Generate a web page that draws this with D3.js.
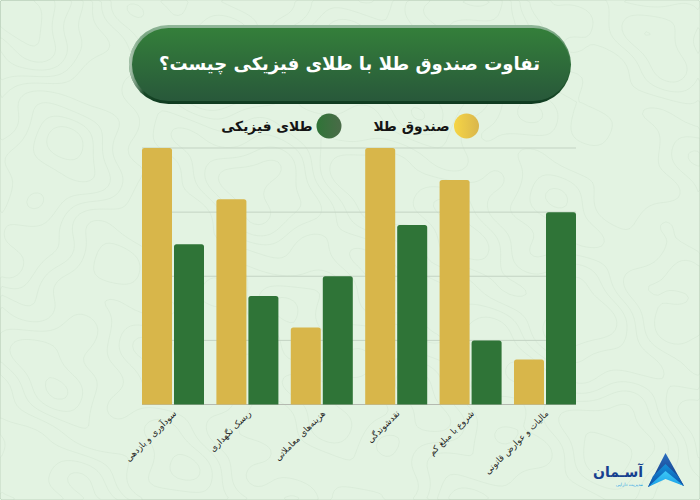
<!DOCTYPE html>
<html lang="fa"><head><meta charset="utf-8">
<script src="https://cdn.jsdelivr.net/npm/d3@7"></script>
<style>html,body{margin:0;padding:0;background:#e3f3e2;overflow:hidden}svg{display:block}text{font-family:"DejaVu Sans",sans-serif}</style>
</head><body><svg id="c" width="700" height="500"></svg>
<script>
const categories = ["سودآوری و بازدهی","ریسک نگهداری","هزینه‌های معاملاتی","نقدشوندگی","شروع با مبلغ کم","مالیات و عوارض قانونی"];
const seriesNames = ["صندوق طلا","طلای فیزیکی"];
const fundValues = [100,80,30,100,87.5,17.5];
const physicalValues = [62.5,42.3,50,70,25,75];
const gridTicks = [25,50,75,100];
const titleText = "تفاوت صندوق طلا با طلای فیزیکی چیست؟";
const brandName = "آسـمان";
const brandTag = "مدیریت دارایی";
const gold = "#d8b64a", green = "#2f7437";

const svg = d3.select("#c");
const defs = svg.append("defs");
function grad(id, stops, x2, y2){
  const g = defs.append("linearGradient").attr("id",id).attr("x1",0).attr("y1",0).attr("x2",x2).attr("y2",y2);
  stops.forEach(([o,c,a])=>g.append("stop").attr("offset",o).attr("stop-color",c).attr("stop-opacity",a===undefined?1:a));
}
grad("titleG",[[0,"#347f3a"],[1,"#28583a"]],0,1);
grad("titleEdge",[[0,"#93b89b"],[0.5,"#2f6f3a"],[1,"#0f3a20"]],0,1);
grad("titleLeft",[[0,"#c9d9cc",0.85],[0.035,"#c9d9cc",0]],1,0);
grad("legGold",[[0,"#f6d545"],[1,"#d9b64c"]],1,0);
grad("legGreen",[[0,"#2f7437"],[1,"#4a6b48"]],1,0);
grad("logoA",[[0,"#2a6fc0"],[1,"#0d2f78"]],0,1);
grad("logoB",[[0,"#1390d8"],[1,"#0e4fa8"]],0,1);
grad("logoC",[[0,"#3cc8f6"],[1,"#1a9ee6"]],0,1);

// background topographic texture
const bgW = 175, bgH = 125;
const field = new Float64Array(bgW*bgH);
for(let j=0;j<bgH;j++)for(let i=0;i<bgW;i++){
  const x=i*4,y=j*4;
  field[j*bgW+i]=Math.sin(x/61+1.2)*Math.cos(y/47-0.6)+0.7*Math.sin((x+y)/83+2.1)+0.55*Math.cos((x-1.4*y)/39)+0.35*Math.sin(x/23+y/71)+0.22*Math.cos(x/13-y/17)+0.15*Math.sin(y/9+x/31);
}
const contours = d3.contours().size([bgW,bgH]).thresholds(d3.range(-2.1,2.1,0.5))(field);
svg.append("g").attr("transform","scale(4)").selectAll("path").data(contours).join("path")
  .attr("d",d3.geoPath()).attr("fill","none").attr("stroke","#b9cdb9").attr("stroke-opacity",0.25).attr("stroke-width",0.18);

// title pill
const pill = svg.append("g");
pill.append("rect").attr("x",129).attr("y",25).attr("width",442).attr("height",79).attr("rx",39.5).attr("fill","url(#titleEdge)");
pill.append("rect").attr("x",129).attr("y",25).attr("width",442).attr("height",79).attr("rx",39.5).attr("fill","url(#titleLeft)");
pill.append("rect").attr("x",132).attr("y",28).attr("width",438).attr("height",73).attr("rx",36.5).attr("fill","url(#titleG)");
pill.append("text").attr("x",349.5).attr("y",69.5).attr("text-anchor","middle").attr("direction","rtl")
  .attr("fill","#fff").attr("font-size",18).attr("font-weight",700).text(titleText);

// legend
const legendData = [{n:seriesNames[0],cx:466.5,f:"url(#legGold)",tx:449.5},{n:seriesNames[1],cx:329,f:"url(#legGreen)",tx:312.5}];
const leg = svg.append("g").selectAll("g").data(legendData).join("g");
leg.append("circle").attr("cx",d=>d.cx).attr("cy",126).attr("r",12.5).attr("fill",d=>d.f);
leg.append("text").attr("x",d=>d.tx).attr("y",131).attr("text-anchor","start").attr("direction","rtl")
  .attr("font-size",13.8).attr("font-weight",700).attr("fill","#141414").text(d=>d.n);

// chart
const x0 = d3.scaleBand().domain(categories).range([142,576]).paddingInner(1/6).paddingOuter(0);
const x1 = d3.scaleBand().domain(seriesNames).range([0,x0.bandwidth()]).paddingInner(0.0625).paddingOuter(0);
const y = d3.scaleLinear().domain([0,100]).range([404.5,148]);

svg.append("g").selectAll("line").data(gridTicks).join("line")
  .attr("x1",142).attr("x2",576).attr("y1",d=>y(d)).attr("y2",d=>y(d))
  .attr("stroke","#c3d3c3").attr("stroke-width",1);
svg.append("line").attr("x1",142).attr("x2",576).attr("y1",y(0)).attr("y2",y(0)).attr("stroke","#b4b9b0").attr("stroke-width",1.2);

const topRounded=(x,yy,w,h,r)=>`M${x},${yy+h}V${yy+r}Q${x},${yy} ${x+r},${yy}H${x+w-r}Q${x+w},${yy} ${x+w},${yy+r}V${yy+h}Z`;
const rows = categories.map((c,i)=>({c,vals:[{s:seriesNames[0],v:fundValues[i],f:gold},{s:seriesNames[1],v:physicalValues[i],f:green}]}));
svg.append("g").selectAll("g").data(rows).join("g").attr("transform",d=>`translate(${x0(d.c)},0)`)
  .selectAll("path").data(d=>d.vals).join("path")
  .attr("d",d=>topRounded(x1(d.s),y(d.v),x1.bandwidth(),y(0)-y(d.v),2.5))
  .attr("fill",d=>d.f);

// category labels
svg.append("g").selectAll("text").data(categories).join("text")
  .attr("transform",d=>`translate(${x0(d)+x0.bandwidth()/2+4},414) rotate(-45)`)
  .attr("text-anchor","start").attr("direction","rtl")
  .attr("font-size",8.7).attr("fill","#1f1f1f").text(d=>d);

// logo
const logo = svg.append("g");
logo.append("path").attr("d","M665.5,453 L648,487 L665.5,477 L684,486 Z").attr("fill","url(#logoA)");
logo.append("path").attr("d","M653,476 L665.5,464 L678,476 L684,486 L665.5,474 L648,487 Z").attr("fill","url(#logoB)");
logo.append("path").attr("d","M648,487 L665.5,471 L684,486 L665.5,479 Z").attr("fill","url(#logoC)");
logo.append("text").attr("x",643).attr("y",477).attr("text-anchor","start").attr("direction","rtl")
  .attr("font-size",14).attr("font-weight",700).attr("fill","#16408f").text(brandName);
logo.append("text").attr("x",643).attr("y",486).attr("text-anchor","start").attr("direction","rtl")
  .attr("font-size",4.5).attr("fill","#2aa5e8").text(brandTag);
</script></body></html>
